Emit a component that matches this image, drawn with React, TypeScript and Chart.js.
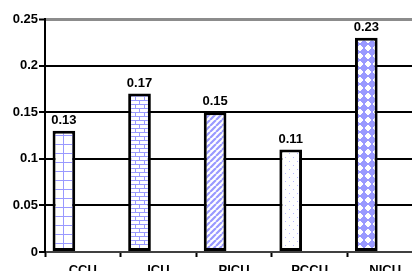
import React, { useEffect, useRef } from "react";
import { Chart, registerables } from "chart.js";

Chart.register(...registerables);

const categories = ["CCU", "ICU", "PICU", "PCCU", "NICU"];
const values = [0.13, 0.17, 0.15, 0.11, 0.23];
const patternKinds = ["grid", "brick", "diagonal", "dots", "diamond"];
const yMax = 0.25;
const yStep = 0.05;

const LAV = "#9999ff";
const FONT = "'Liberation Sans', Arial, sans-serif";

function makePattern(kind: string): CanvasPattern | string {
  const c = document.createElement("canvas");
  const s = kind === "brick" ? 9 : kind === "diagonal" ? 6 : kind === "dots" ? 8 : kind === "diamond" ? 8 : 9;
  c.width = s;
  c.height = kind === "brick" ? 8 : s;
  const g = c.getContext("2d")!;
  g.fillStyle = "#ffffff";
  g.fillRect(0, 0, c.width, c.height);
  g.fillStyle = LAV;
  if (kind === "grid") {
    g.fillRect(0, 0, s, 1);
    g.fillRect(0, 0, 1, s);
  } else if (kind === "brick") {
    g.fillRect(0, 0, s, 1);
    g.fillRect(0, 4, s, 1);
    g.fillRect(0, 0, 1, 4);
    g.fillRect(4, 4, 1, 4);
  } else if (kind === "diagonal") {
    g.strokeStyle = LAV;
    g.lineWidth = 2.2;
    g.beginPath();
    for (let k = -1; k <= 1; k++) {
      g.moveTo(k * s, s);
      g.lineTo(k * s + s, 0);
    }
    g.stroke();
  } else if (kind === "dots") {
    g.fillStyle = "#b8b8ff";
    g.fillRect(1, 1, 1, 1);
    g.fillRect(5, 5, 1, 1);
  } else if (kind === "diamond") {
    const widths = [2, 4, 6, 8, 8, 6, 4, 2];
    widths.forEach((w, y) => {
      g.fillRect((s - w) / 2, y, w, 1);
    });
  }
  const p = g.createPattern(c, "repeat");
  return p || LAV;
}

export default function App() {
  const ref = useRef<HTMLCanvasElement>(null);

  useEffect(() => {
    const canvas = ref.current!;
    const bgs = patternKinds.map((k) => makePattern(k));

    const labelPlugin = {
      id: "valueLabels",
      afterDatasetsDraw(chart: any) {
        const ctx = chart.ctx;
        const meta = chart.getDatasetMeta(0);
        ctx.save();
        ctx.font = `bold 13px ${FONT}`;
        ctx.fillStyle = "#000";
        ctx.textAlign = "center";
        ctx.textBaseline = "bottom";
        meta.data.forEach((el: any, i: number) => {
          ctx.fillText(String(values[i]), el.x, el.y - 4);
        });
        ctx.restore();
      },
    };

    const chart = new Chart(canvas, {
      type: "bar",
      data: {
        labels: categories,
        datasets: [
          {
            data: values,
            backgroundColor: bgs as any,
            borderColor: "#000",
            borderWidth: 3,
            borderSkipped: false,
            barPercentage: 0.6,
            categoryPercentage: 1.0,
          },
          {
            data: categories.map(() => null),
            backgroundColor: "transparent",
            barPercentage: 0.6,
            categoryPercentage: 1.0,
          },
        ],
      },
      options: {
        responsive: false,
        animation: false,
        layout: { padding: { top: 19, left: 0, right: 0, bottom: 0 } },
        plugins: {
          legend: { display: false },
          tooltip: { enabled: false },
        },
        scales: {
          x: {
            afterFit: (scale: any) => {
              scale.height = 33;
            },
            grid: {
              offset: true,
              drawOnChartArea: false,
              drawTicks: true,
              tickLength: 5,
              color: "#000",
              tickWidth: 2,
            },
            border: { color: "#404040", width: 2 },
            ticks: {
              color: "#000",
              padding: 6,
              maxRotation: 0,
              font: { family: FONT, size: 13, weight: "bold" },
            },
          },
          y: {
            min: 0,
            max: yMax,
            afterFit: (scale: any) => {
              scale.width = 45;
            },
            grid: {
              display: true,
              drawOnChartArea: true,
              color: ["#000", "#000", "#000", "#000", "#000", "#8c8c8c"],
              lineWidth: [2, 2, 2, 2, 2, 3],
              tickColor: "#000",
              tickLength: 6,
              tickWidth: 2,
            },
            border: { color: "#000", width: 2 },
            ticks: {
              stepSize: yStep,
              autoSkip: false,
              color: "#000",
              padding: 1,
              font: { family: FONT, size: 13, weight: "bold" },
              callback: (v: any) => String(Number(Number(v).toFixed(2))),
            },
          },
        },
      } as any,
      plugins: [labelPlugin],
    });

    return () => chart.destroy();
  }, []);

  return (
    <div
      style={{
        position: "fixed",
        left: 0,
        top: 0,
        width: 412,
        height: 271,
        overflow: "hidden",
        background: "#fff",
      }}
    >
      <canvas ref={ref} width={423} height={285} style={{ display: "block" }} />
    </div>
  );
}
